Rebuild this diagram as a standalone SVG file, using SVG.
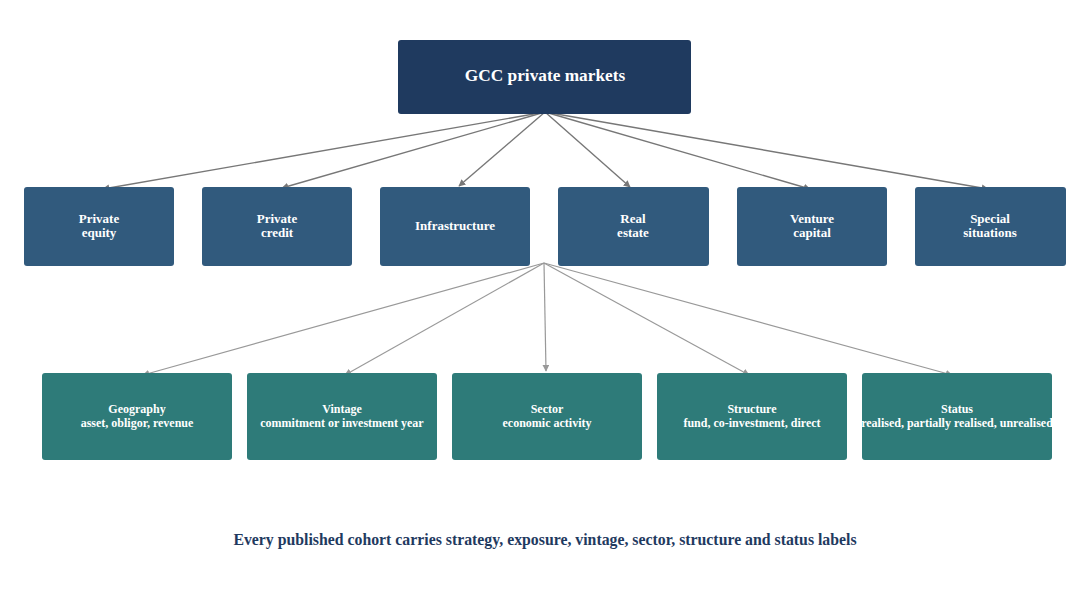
<svg xmlns="http://www.w3.org/2000/svg" width="1090" height="610" viewBox="0 0 1090 610">
<style>
text{font-family:"Liberation Serif","Times New Roman",serif;font-weight:bold;fill:#fff;text-anchor:middle}
.root{fill:#1f3a5f}
.cat{fill:#315a7d}
.dim{fill:#2e7b79}
.t1{font-size:17.3px}
.t2{font-size:13px}
.t3{font-size:12px}
.e1{stroke:#777;stroke-width:1.4;fill:none;marker-end:url(#a1)}
.e2{stroke:#999;stroke-width:1.2;fill:none;marker-end:url(#a2)}
.cap{font-size:15.8px;fill:#1f3a5f}
</style>
<defs>
<marker id="a1" viewBox="0 0 10 10" refX="9" refY="5" markerWidth="7" markerHeight="7" markerUnits="userSpaceOnUse" orient="auto"><path d="M0,0L10,5L0,10z" fill="#777"/></marker>
<marker id="a2" viewBox="0 0 10 10" refX="9" refY="5" markerWidth="7" markerHeight="7" markerUnits="userSpaceOnUse" orient="auto"><path d="M0,0L10,5L0,10z" fill="#999"/></marker>
</defs>
<rect width="1090" height="610" fill="#fff"/>
<g id="connectors">
<path class="e1" d="M545,112L103,189"/>
<path class="e1" d="M545,112L282,188"/>
<path class="e1" d="M545,112L459,186"/>
<path class="e1" d="M545,112L630,187"/>
<path class="e1" d="M545,112L810,189"/>
<path class="e1" d="M545,112L988,189"/>
<path class="e2" d="M544,263L143,375"/>
<path class="e2" d="M544,263L345,375"/>
<path class="e2" d="M544,263L546,371"/>
<path class="e2" d="M544,263L749,375"/>
<path class="e2" d="M544,263L952,375"/>
</g>
<g id="root"><rect class="root" x="398" y="40" width="293" height="74" rx="3"/><text class="t1" x="545" y="81">GCC private markets</text></g>
<g id="pe"><rect class="cat" x="24" y="187" width="150" height="79" rx="3"/><text class="t2" x="99" y="223">Private</text><text class="t2" x="99" y="237">equity</text></g>
<g id="pc"><rect class="cat" x="202" y="187" width="150" height="79" rx="3"/><text class="t2" x="277" y="223">Private</text><text class="t2" x="277" y="237">credit</text></g>
<g id="infra"><rect class="cat" x="380" y="187" width="150" height="79" rx="3"/><text class="t2" x="455" y="230">Infrastructure</text></g>
<g id="re"><rect class="cat" x="558" y="187" width="151" height="79" rx="3"/><text class="t2" x="633" y="223">Real</text><text class="t2" x="633" y="237">estate</text></g>
<g id="vc"><rect class="cat" x="737" y="187" width="150" height="79" rx="3"/><text class="t2" x="812" y="223">Venture</text><text class="t2" x="812" y="237">capital</text></g>
<g id="ss"><rect class="cat" x="915" y="187" width="151" height="79" rx="3"/><text class="t2" x="990" y="223">Special</text><text class="t2" x="990" y="237">situations</text></g>
<g id="geo"><rect class="dim" x="42" y="373" width="190" height="87" rx="3"/><text class="t3" x="137" y="413">Geography</text><text class="t3" x="137" y="427">asset, obligor, revenue</text></g>
<g id="vin"><rect class="dim" x="247" y="373" width="190" height="87" rx="3"/><text class="t3" x="342" y="413">Vintage</text><text class="t3" x="342" y="427">commitment or investment year</text></g>
<g id="sec"><rect class="dim" x="452" y="373" width="190" height="87" rx="3"/><text class="t3" x="547" y="413">Sector</text><text class="t3" x="547" y="427">economic activity</text></g>
<g id="str"><rect class="dim" x="657" y="373" width="190" height="87" rx="3"/><text class="t3" x="752" y="413">Structure</text><text class="t3" x="752" y="427">fund, co-investment, direct</text></g>
<g id="sta"><rect class="dim" x="862" y="373" width="190" height="87" rx="3"/><text class="t3" x="957" y="413">Status</text><text class="t3" x="957" y="427">realised, partially realised, unrealised</text></g>
<text class="cap" x="545" y="545">Every published cohort carries strategy, exposure, vintage, sector, structure and status labels</text>
</svg>
